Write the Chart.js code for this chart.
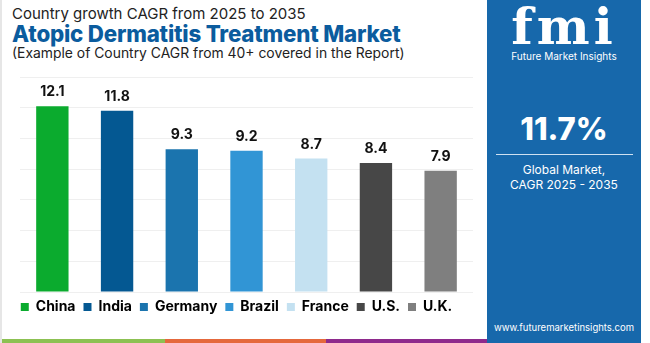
<!DOCTYPE html>
<html>
<head>
<meta charset="utf-8">
<script src="https://cdn.jsdelivr.net/npm/chart.js@4.4.1/dist/chart.umd.min.js"></script>
<style>
  html, body { margin: 0; padding: 0; background: #fff; }
  body { width: 650px; height: 343px; position: relative; overflow: hidden; font-family: "Inter", "Open Sans", sans-serif; }
  .frame { position: absolute; left: 0; top: 0; width: 485px; height: 343px; border-left: 2px solid #e6e6e6; box-sizing: border-box; }
  .t1 { position: absolute; left: 12px; top: 4px; font-size: 15px; color: #222; }
  .t2 { position: absolute; left: 12px; top: 20px; font-size: 22.3px; font-weight: 800; color: #0b5c9e; letter-spacing: -0.2px; }
  .t3 { position: absolute; left: 12px; top: 45px; font-size: 13.9px; color: #222; }
  #wrap { position: absolute; left: 0; top: 62px; width: 482px; height: 262px; }
  .strip { position: absolute; top: 339px; height: 4px; }
  .panel { position: absolute; left: 487px; top: 0; width: 154px; height: 343px; background: #1768ab; color: #fff; text-align: center; }
  .logo { position: absolute; left: 0; width: 154px; top: 2px; font-family: "DejaVu Serif", serif; font-weight: bold; font-size: 50px; line-height: 50px; letter-spacing: 4px; }
  .fmisub { position: absolute; left: 0; width: 154px; top: 50px; font-size: 10px; }
  .big { position: absolute; left: 0; width: 154px; top: 110px; font-size: 31px; font-weight: 800; }
  .rule { position: absolute; left: 9px; width: 137px; top: 154px; height: 1px; background: #cfe1f1; }
  .gm { position: absolute; left: 0; width: 154px; top: 162px; font-size: 12px; line-height: 15px; }
  .url { position: absolute; left: 0; width: 154px; top: 322px; font-size: 9.5px; }
</style>
</head>
<body>
<div class="frame"></div>
<div class="t1">Country growth CAGR from 2025 to 2035</div>
<div class="t2">Atopic Dermatitis Treatment Market</div>
<div class="t3">(Example of Country CAGR from 40+ covered in the Report)</div>
<div id="wrap"><canvas id="chart"></canvas></div>
<div class="strip" style="left:2px;width:163px;background:#8cc152;"></div>
<div class="strip" style="left:165px;width:161px;background:#e5683c;"></div>
<div class="strip" style="left:326px;width:161px;background:#8e2a8c;"></div>
<div class="panel">
  <div class="logo">fmi</div>
  <div class="fmisub">Future Market Insights</div>
  <div class="big">11.7%</div>
  <div class="rule"></div>
  <div class="gm">Global Market,<br>CAGR 2025 - 2035</div>
  <div class="url">www.futuremarketinsights.com</div>
</div>
<script>
const countries = ['China', 'India', 'Germany', 'Brazil', 'France', 'U.S.', 'U.K.'];
const cagr = [12.1, 11.8, 9.3, 9.2, 8.7, 8.4, 7.9];
const colores = ['#0bab2e', '#045892', '#1b74ae', '#3195d5', '#c4e1f1', '#474747', '#7f7f7f'];

const valueLabels = {
  id: 'valueLabels',
  afterDatasetsDraw(chart) {
    const ctx = chart.ctx;
    const meta = chart.getDatasetMeta(0);
    ctx.save();
    ctx.font = 'bold 14px Inter, sans-serif';
    ctx.fillStyle = '#111';
    ctx.textAlign = 'center';
    ctx.textBaseline = 'bottom';
    meta.data.forEach((bar, i) => {
      ctx.fillText(cagr[i].toFixed(1), bar.x, bar.y - 7);
    });
    ctx.restore();
  }
};

new Chart(document.getElementById('chart').getContext('2d'), {
  type: 'bar',
  data: {
    labels: countries,
    datasets: [{
      label: 'CAGR',
      data: cagr,
      backgroundColor: colores,
      borderWidth: 0,
      barPercentage: 0.5,
      categoryPercentage: 1
    }]
  },
  options: {
    responsive: true,
    maintainAspectRatio: false,
    animation: false,
    layout: { padding: { top: 15, left: 0, right: 9, bottom: 0 } },
    plugins: {
      tooltip: { enabled: false },
      legend: {
        position: 'bottom',
        labels: {
          boxWidth: 8,
          boxHeight: 8,
          padding: 8,
          color: '#111',
          font: { family: 'Inter, sans-serif', size: 14, weight: 'bold' },
          generateLabels: () => countries.map((c, i) => ({
            text: c,
            fillStyle: colores[i],
            strokeStyle: colores[i],
            lineWidth: 0,
            index: i
          }))
        }
      }
    },
    scales: {
      x: { display: false },
      y: {
        min: 0,
        max: 14,
        ticks: { display: false, stepSize: 2 },
        grid: { color: '#efefef', drawTicks: false },
        border: { display: false },
        afterFit(scale) { scale.width = 20; }
      }
    }
  },
  plugins: [valueLabels]
});
</script>
</body>
</html>
